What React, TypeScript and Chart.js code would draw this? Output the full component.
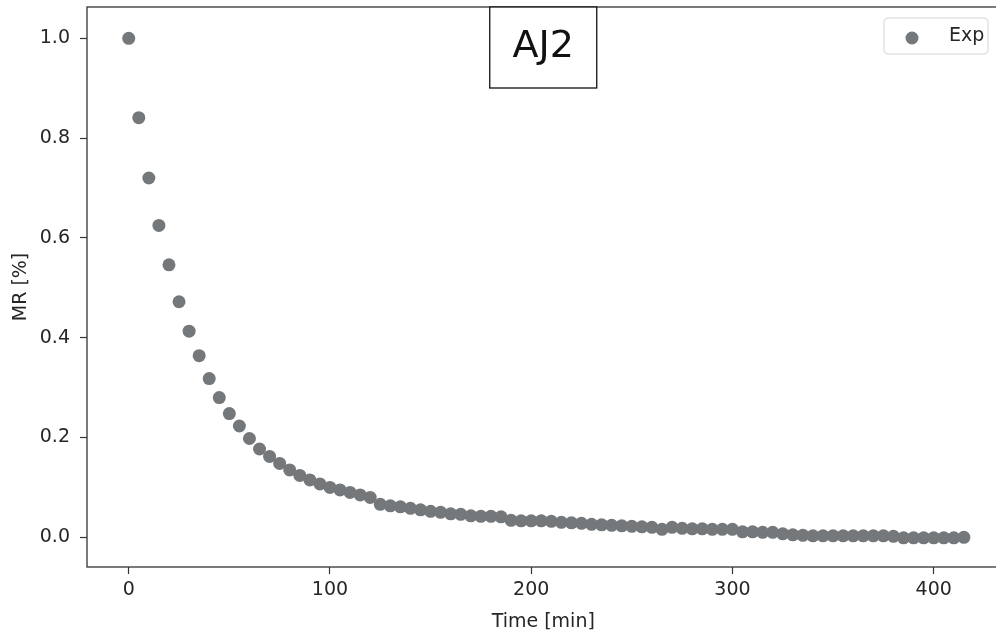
import React, { useEffect, useRef } from "react";
import { Chart, registerables } from "chart.js";

Chart.register(...registerables);

const seriesLabel = "Exp";
const chartTitle = "AJ2";
const xTitle = "Time [min]";
const yTitle = "MR [%]";

const times: number[] = [
  0, 5, 10, 15, 20, 25, 30, 35, 40, 45, 50, 55, 60, 65, 70, 75, 80, 85, 90, 95,
  100, 105, 110, 115, 120, 125, 130, 135, 140, 145, 150, 155, 160, 165, 170, 175, 180, 185, 190, 195,
  200, 205, 210, 215, 220, 225, 230, 235, 240, 245, 250, 255, 260, 265, 270, 275, 280, 285, 290, 295,
  300, 305, 310, 315, 320, 325, 330, 335, 340, 345, 350, 355, 360, 365, 370, 375, 380, 385, 390, 395,
  400, 405, 410, 415,
];

const mr: number[] = [
  1.0, 0.841, 0.72, 0.625, 0.546, 0.472, 0.413, 0.364, 0.318, 0.28, 0.248, 0.223, 0.198, 0.177, 0.162, 0.148, 0.135, 0.124, 0.115, 0.107,
  0.1, 0.095, 0.09, 0.085, 0.08, 0.066, 0.063, 0.061, 0.058, 0.055, 0.052, 0.05, 0.047, 0.046, 0.043, 0.042, 0.042, 0.041, 0.034, 0.033,
  0.033, 0.033, 0.032, 0.03, 0.029, 0.028, 0.026, 0.025, 0.024, 0.023, 0.022, 0.021, 0.02, 0.016, 0.02, 0.018, 0.017, 0.017, 0.016, 0.016,
  0.016, 0.011, 0.011, 0.01, 0.01, 0.007, 0.005, 0.004, 0.003, 0.003, 0.003, 0.003, 0.003, 0.003, 0.003, 0.003, 0.002, -0.001, -0.001, -0.001,
  -0.001, -0.001, -0.001, 0.0,
];

const xTicks: number[] = [0, 100, 200, 300, 400];
const yTicks: number[] = [0.0, 0.2, 0.4, 0.6, 0.8, 1.0];

const FONT = "'DejaVu Sans', sans-serif";
const DOT = "#74787b";
const INK = "#262626";

const zeroPad = (s: any) => {
  s.paddingTop = 0;
  s.paddingBottom = 0;
  s.paddingLeft = 0;
  s.paddingRight = 0;
};

const framePlugin = {
  id: "frameAndExtras",
  afterDraw(chart: any) {
    const { ctx, chartArea } = chart;
    const { left, right, top, bottom } = chartArea;
    ctx.save();
    // spines
    ctx.strokeStyle = "#333";
    ctx.lineWidth = 1.3;
    ctx.strokeRect(left, top, right - left, bottom - top);

    // title box
    const cx = (left + right) / 2;
    const bw = 107;
    const bh = 81;
    ctx.fillStyle = "#fff";
    ctx.fillRect(cx - bw / 2, top, bw, bh);
    ctx.strokeStyle = "#111";
    ctx.lineWidth = 1.3;
    ctx.strokeRect(cx - bw / 2, top, bw, bh);
    ctx.fillStyle = "#111";
    ctx.font = `38px ${FONT}`;
    ctx.textAlign = "center";
    ctx.textBaseline = "alphabetic";
    ctx.fillText(chartTitle, cx, top + 50);

    // legend
    const ds = chart.data.datasets[0];
    const lx = 884, ly = 18, lw = 104, lh = 36;
    ctx.beginPath();
    const r = 4;
    ctx.moveTo(lx + r, ly);
    ctx.lineTo(lx + lw - r, ly);
    ctx.quadraticCurveTo(lx + lw, ly, lx + lw, ly + r);
    ctx.lineTo(lx + lw, ly + lh - r);
    ctx.quadraticCurveTo(lx + lw, ly + lh, lx + lw - r, ly + lh);
    ctx.lineTo(lx + r, ly + lh);
    ctx.quadraticCurveTo(lx, ly + lh, lx, ly + lh - r);
    ctx.lineTo(lx, ly + r);
    ctx.quadraticCurveTo(lx, ly, lx + r, ly);
    ctx.closePath();
    ctx.fillStyle = "rgba(255,255,255,0.8)";
    ctx.fill();
    ctx.strokeStyle = "#d6d6d6";
    ctx.lineWidth = 1;
    ctx.stroke();
    ctx.beginPath();
    ctx.arc(912, 38, 6.5, 0, Math.PI * 2);
    ctx.fillStyle = ds.backgroundColor;
    ctx.fill();
    ctx.fillStyle = INK;
    ctx.font = `19px ${FONT}`;
    ctx.textAlign = "left";
    ctx.textBaseline = "middle";
    ctx.fillText(ds.label, 949, 36);
    ctx.restore();
  },
};

export default function App() {
  const ref = useRef<HTMLCanvasElement>(null);

  useEffect(() => {
    if (!ref.current) return;
    const chart = new Chart(ref.current, {
      type: "scatter",
      data: {
        datasets: [
          {
            label: seriesLabel,
            data: times.map((t, i) => ({ x: t, y: mr[i] })),
            backgroundColor: DOT,
            borderColor: DOT,
            borderWidth: 0,
            pointRadius: 6.5,
            pointHoverRadius: 6.5,
          },
        ],
      },
      options: {
        responsive: false,
        animation: false,
        devicePixelRatio: 1,
        layout: { padding: { top: 7, right: 1, left: 0, bottom: 0 } },
        plugins: {
          legend: { display: false },
          tooltip: { enabled: false },
          title: { display: false },
        },
        scales: {
          x: {
            type: "linear",
            min: -20.73,
            max: 432.7,
            afterFit: (s: any) => {
              s.height = 67;
              zeroPad(s);
            },
            afterBuildTicks: (s: any) => {
              s.ticks = xTicks.map((v) => ({ value: v }));
            },
            border: { display: false },
            grid: {
              drawOnChartArea: false,
              drawTicks: true,
              tickLength: 7,
              tickColor: "#333",
              tickWidth: 1.2,
            },
            ticks: {
              font: { family: FONT, size: 19 },
              color: INK,
              padding: 5,
              maxRotation: 0,
              callback: (v: any) => String(v),
            },
            title: {
              display: true,
              text: xTitle,
              font: { family: FONT, size: 19 },
              color: INK,
              padding: { top: 0, bottom: 1 },
            },
          },
          y: {
            type: "linear",
            min: -0.0595,
            max: 1.0627,
            afterFit: (s: any) => {
              s.width = 87;
              zeroPad(s);
            },
            afterBuildTicks: (s: any) => {
              s.ticks = yTicks.map((v) => ({ value: v }));
            },
            border: { display: false },
            grid: {
              drawOnChartArea: false,
              drawTicks: true,
              tickLength: 7,
              tickColor: "#333",
              tickWidth: 1.2,
            },
            ticks: {
              font: { family: FONT, size: 19 },
              color: INK,
              padding: 10,
              callback: (v: any) => Number(v).toFixed(1),
            },
            title: {
              display: true,
              text: yTitle,
              font: { family: FONT, size: 19 },
              color: INK,
              padding: { top: 10, bottom: 0 },
            },
          },
        },
      },
      plugins: [framePlugin],
    });
    return () => chart.destroy();
  }, []);

  return (
    <div
      style={{
        position: "fixed",
        left: 0,
        top: 0,
        width: 996,
        height: 634,
        overflow: "hidden",
        background: "#fff",
      }}
    >
      <canvas ref={ref} width={1006} height={634} style={{ width: 1006, height: 634, display: "block" }} />
    </div>
  );
}
